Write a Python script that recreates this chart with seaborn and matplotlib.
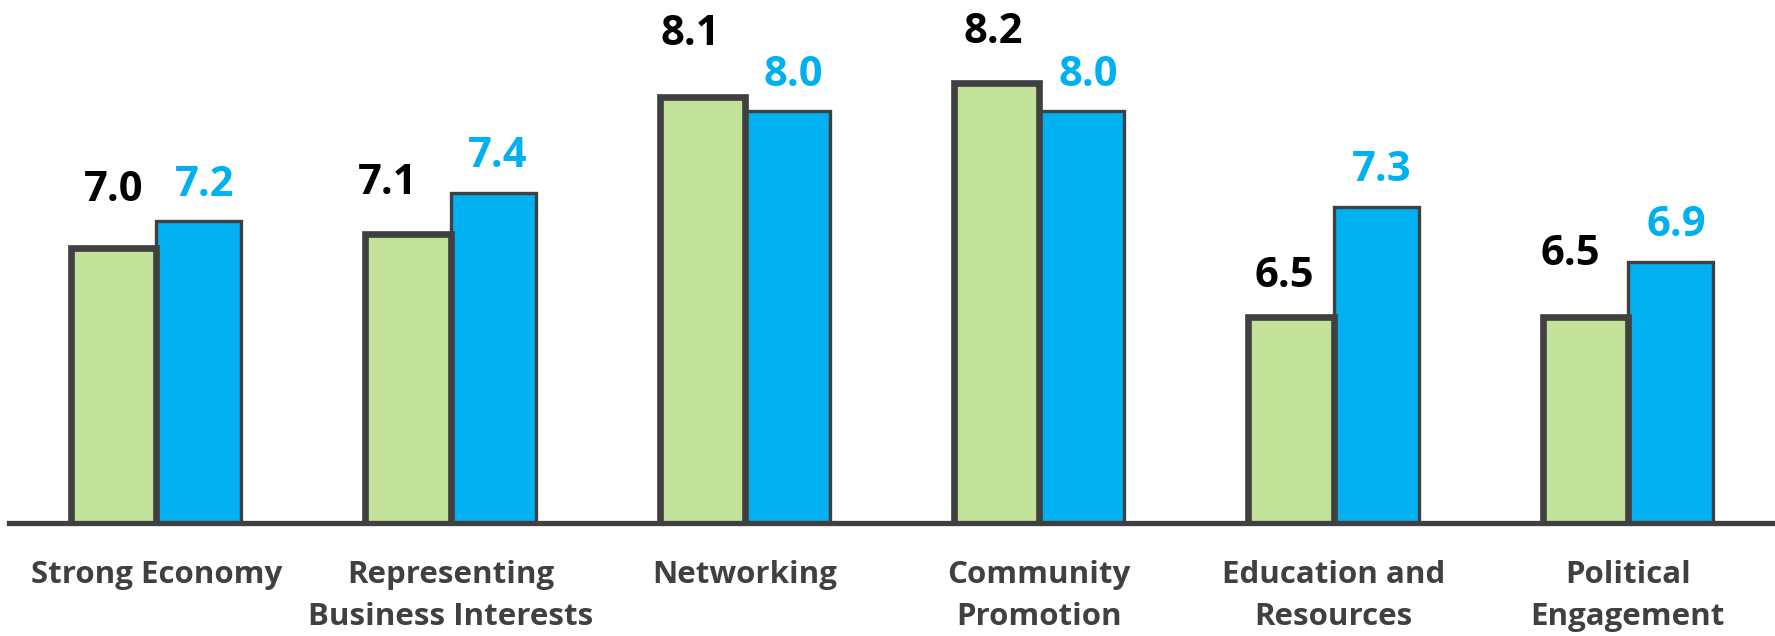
import matplotlib
matplotlib.use("Agg")
import matplotlib.pyplot as plt
import seaborn as sns
import pandas as pd

# ---- data ----
categories = ["Strong Economy", "Representing\nBusiness Interests", "Networking",
              "Community\nPromotion", "Education and\nResources", "Political\nEngagement"]
series_names = ["Green", "Blue"]
green_values = [7.0, 7.1, 8.1, 8.2, 6.5, 6.5]
blue_values = [7.2, 7.4, 8.0, 8.0, 7.3, 6.9]

# ---- style ----
GREEN = "#C1E298"
BLUE = "#00B0F0"
EDGE = "#404040"
DPI = 100
# label offsets in pixels (dx, dy from bar top)
green_label_dx = [0, -20, -11.5, -3, -6.5, -15]
green_label_dy = [47.5, 40.5, 51.5, 40, 30, 51.5]
blue_label_dx = [6, 5, 6, 7, 6, 6]
blue_label_dy = [25, 26, 25, 25, 26, 26]

sns.set_theme(style="white")
plt.rcParams["font.family"] = ["Open Sans", "DejaVu Sans"]

df = pd.DataFrame({
    "category": categories * 2,
    "series": [series_names[0]] * len(categories) + [series_names[1]] * len(categories),
    "value": green_values + blue_values,
})

fig = plt.figure(figsize=(17.75, 6.36), dpi=DPI)
ax = fig.add_axes([9 / 1775, 113 / 636, 1766 / 1775, 523 / 636])

sns.barplot(data=df, x="category", y="value", hue="series", order=categories,
            hue_order=series_names, palette=[GREEN, BLUE], width=0.578,
            edgecolor=EDGE, saturation=1, legend=False, ax=ax)

green_c, blue_c = ax.containers[0], ax.containers[1]
for p in green_c.patches:
    p.set_linewidth(4.8)
    p.set_zorder(3)
for p in blue_c.patches:
    p.set_linewidth(2.4)
    p.set_zorder(2)

ax.set_xlim(-0.5, 5.5)
ax.set_ylim(5.0, 8.804)

px = 72.0 / DPI
for i, p in enumerate(green_c.patches):
    ax.annotate(f"{green_values[i]:.1f}", xy=(p.get_x() + p.get_width() / 2, p.get_height()),
                xytext=(green_label_dx[i] * px, green_label_dy[i] * px), textcoords="offset points",
                ha="center", va="baseline", fontsize=30, fontweight="bold", color="black",
                annotation_clip=False)
for i, p in enumerate(blue_c.patches):
    ax.annotate(f"{blue_values[i]:.1f}", xy=(p.get_x() + p.get_width() / 2, p.get_height()),
                xytext=(blue_label_dx[i] * px, blue_label_dy[i] * px), textcoords="offset points",
                ha="center", va="baseline", fontsize=30, fontweight="bold", color=BLUE,
                annotation_clip=False)

for s in ["top", "left", "right"]:
    ax.spines[s].set_visible(False)
ax.spines["bottom"].set_color(EDGE)
ax.spines["bottom"].set_linewidth(3.8)
ax.spines["bottom"].set_zorder(5)
ax.set_yticks([])
ax.set_xlabel("")
ax.set_ylabel("")
ax.tick_params(axis="x", length=0, pad=26.5)
for lab in ax.get_xticklabels():
    lab.set_fontsize(22.5)
    lab.set_fontweight("bold")
    lab.set_color(EDGE)
    lab.set_linespacing(1.52)
ax.set_facecolor("white")
fig.patch.set_facecolor("white")

fig.savefig("out.png", dpi=DPI, facecolor="white")
